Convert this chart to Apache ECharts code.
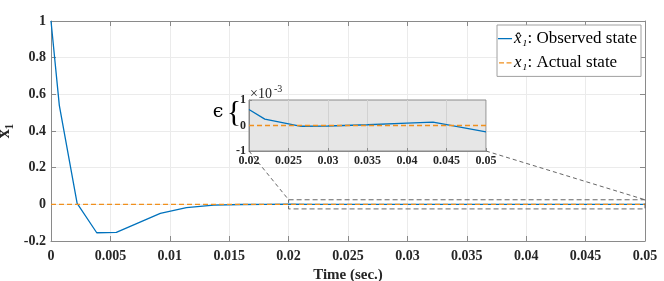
<!DOCTYPE html>
<html>
<head>
<meta charset="utf-8">
<script src="https://cdn.jsdelivr.net/npm/echarts@6/dist/echarts.min.js"></script>
<style>html,body{margin:0;padding:0;background:#fff}#c{width:664px;height:281px}</style>
</head>
<body>
<div id="c"></div>
<script>
// ---- data ----
const mainTime = [0, 0.0007, 0.0022, 0.00385, 0.0055, 0.0092, 0.0114, 0.0137, 0.016, 0.018];
const mainObserved = [1, 0.54, 0.005, -0.155, -0.153, -0.049, -0.018, -0.004, -0.001, 0.0003];
// zoomed window values (units of 1e-3)
const insetTime = [0.02, 0.022, 0.0266, 0.03, 0.035, 0.04, 0.0433, 0.05];
const insetObserved = [0.63, 0.25, -0.03, -0.02, 0.03, 0.09, 0.13, -0.25];
const actualTime = [0, 0.05];
const actualValue = [0, 0];
const zoomBox = { x0: 0.02, x1: 0.05, y0: -0.025, y1: 0.025 };
const insetScale = 1e-3;
const legendNames = ['Observed', 'Actual'];

const BLUE = '#0072BD', ORANGE = '#F0901E';
const AX = '#8a8a8a', TXT = '#262626';
const serif = 'Liberation Serif';

const fmt = v => String(parseFloat(v.toFixed(4)));

const observedPairs = mainTime.map((t, i) => [t, mainObserved[i]])
  .concat(insetTime.map((t, i) => [t, insetObserved[i] * insetScale]));
const insetPairs = insetTime.map((t, i) => [t, insetObserved[i]]);
const actualPairs = actualTime.map((t, i) => [t, actualValue[i]]);
const insetActualPairs = [[insetTime[0], 0], [insetTime[insetTime.length - 1], 0]];
const boxPairs = [[zoomBox.x0, zoomBox.y1], [zoomBox.x1, zoomBox.y1], [zoomBox.x1, zoomBox.y0], [zoomBox.x0, zoomBox.y0], [zoomBox.x0, zoomBox.y1]];

const chart = echarts.init(document.getElementById('c'), null, { renderer: 'canvas' });

const tickLbl = (size) => ({ fontFamily: serif, fontWeight: 'bold', fontSize: size, color: TXT });

// legend line icons (thin line centred in a 14x14 box)
const solidIcon = 'path://M0,0h0.01v0.01h-0.01z M0,6.4h14v1.3h-14z M13.99,13.99h0.01v0.01h-0.01z';
const dashIcon = 'path://M0,0h0.01v0.01h-0.01z M1,6.4h5v1.3h-5z M8.5,6.4h5v1.3h-5z M13.99,13.99h0.01v0.01h-0.01z';

const option = {
  animation: false,
  backgroundColor: '#fff',
  grid: [
    { left: 51, top: 21, width: 594, height: 220, show: false, containLabel: false, outerBoundsMode: 'none' },
    { left: 249, top: 100, width: 237, height: 51, show: true, backgroundColor: '#e6e6e6', borderColor: AX, borderWidth: 1, z: 3, containLabel: false, outerBoundsMode: 'none' }
  ],
  xAxis: [
    { type: 'value', gridIndex: 0, min: 0, max: 0.05, interval: 0.005, position: 'bottom',
      axisLine: { show: true, onZero: false, lineStyle: { color: AX } },
      axisTick: { show: true, inside: true, length: 5, lineStyle: { color: AX } },
      axisLabel: Object.assign({ margin: 8, formatter: fmt }, tickLbl(14)),
      splitLine: { show: true, lineStyle: { color: '#ebebeb' } },
      name: 'Time (sec.)', nameLocation: 'middle', nameGap: 22,
      nameTextStyle: { fontFamily: serif, fontWeight: 'bold', fontSize: 15, color: TXT } },
    { type: 'value', gridIndex: 0, min: 0, max: 0.05, interval: 0.005, position: 'top',
      axisLine: { show: true, onZero: false, lineStyle: { color: AX } },
      axisTick: { show: true, inside: true, length: 5, lineStyle: { color: AX } },
      axisLabel: { show: false }, splitLine: { show: false } },
    { type: 'value', gridIndex: 1, min: 0.02, max: 0.05, interval: 0.005, position: 'bottom', z: 4,
      axisLine: { show: true, onZero: false, lineStyle: { color: AX } },
      axisTick: { show: true, inside: true, length: 3, lineStyle: { color: AX } },
      axisLabel: Object.assign({ margin: 4, formatter: fmt }, tickLbl(12)),
      splitLine: { show: true, lineStyle: { color: '#d2d2d2' } } }
  ],
  yAxis: [
    { type: 'value', gridIndex: 0, min: -0.2, max: 1, interval: 0.2, position: 'left',
      axisLine: { show: true, onZero: false, lineStyle: { color: AX } },
      axisTick: { show: true, inside: true, length: 5, lineStyle: { color: AX } },
      axisLabel: Object.assign({ margin: 5, formatter: fmt }, tickLbl(14)),
      splitLine: { show: true, lineStyle: { color: '#ebebeb' } },
      name: 'x₁', nameLocation: 'middle', nameGap: 32, nameRotate: 90,
      nameTextStyle: { fontFamily: serif, fontWeight: 'bold', fontSize: 18, color: TXT } },
    { type: 'value', gridIndex: 0, min: -0.2, max: 1, interval: 0.2, position: 'right',
      axisLine: { show: true, onZero: false, lineStyle: { color: AX } },
      axisTick: { show: true, inside: true, length: 5, lineStyle: { color: AX } },
      axisLabel: { show: false }, splitLine: { show: false } },
    { type: 'value', gridIndex: 1, min: -1, max: 1, interval: 1, position: 'left', z: 4,
      axisLine: { show: true, onZero: false, lineStyle: { color: AX } },
      axisTick: { show: true, inside: true, length: 3, lineStyle: { color: AX } },
      axisLabel: Object.assign({ margin: 3, formatter: fmt }, tickLbl(12)),
      splitLine: { show: false } }
  ],
  legend: {
    right: 23, top: 25, orient: 'vertical',
    data: [{ name: legendNames[0], icon: solidIcon }, { name: legendNames[1], icon: dashIcon }],
    backgroundColor: '#fff', borderColor: '#a0a0a0', borderWidth: 1, borderRadius: 0,
    padding: [5, 4, 5, 1], itemGap: 7.4, itemWidth: 14, itemHeight: 14,
    formatter: function (name) {
      return name === legendNames[0] ? '{i|x̂₁}: Observed state' : '{i|x₁}: Actual state';
    },
    textStyle: { fontFamily: serif, fontSize: 17, color: '#000', padding: [0, 0, 0, -3],
      rich: { i: { fontFamily: serif, fontStyle: 'italic', fontSize: 17, color: '#000' } } }
  },
  series: [
    { name: legendNames[0], type: 'line', xAxisIndex: 0, yAxisIndex: 0, data: observedPairs,
      showSymbol: false, symbol: 'none', lineStyle: { color: BLUE, width: 1.3 }, itemStyle: { color: BLUE }, z: 2 },
    { name: legendNames[1], type: 'line', xAxisIndex: 0, yAxisIndex: 0, data: actualPairs,
      showSymbol: false, symbol: 'none', lineStyle: { color: ORANGE, width: 1.3, type: [5, 3] }, itemStyle: { color: ORANGE }, z: 3 },
    { type: 'line', xAxisIndex: 0, yAxisIndex: 0, data: boxPairs, silent: true,
      showSymbol: false, symbol: 'none', lineStyle: { color: '#555', width: 0.9, type: [5, 3] }, z: 4 },
    { type: 'line', xAxisIndex: 2, yAxisIndex: 2, data: insetPairs,
      showSymbol: false, symbol: 'none', lineStyle: { color: BLUE, width: 1.3 }, z: 6 },
    { type: 'line', xAxisIndex: 2, yAxisIndex: 2, data: insetActualPairs,
      showSymbol: false, symbol: 'none', lineStyle: { color: ORANGE, width: 1.3, type: [5, 3] }, z: 7 }
  ]
};
chart.setOption(option);

// connectors between zoom box and inset, via library coordinate conversion
const pMain = (x, y) => chart.convertToPixel({ xAxisIndex: 0, yAxisIndex: 0 }, [x, y]);
const pIns = (x, y) => chart.convertToPixel({ xAxisIndex: 2, yAxisIndex: 2 }, [x, y]);
const a1 = pIns(0.02, -1), b1 = pMain(zoomBox.x0, zoomBox.y1);
const a2 = pIns(0.05, -1), b2 = pMain(zoomBox.x1, zoomBox.y1);
const insMid = pIns(0.02, 0), insTopL = pIns(0.02, 1);
chart.setOption({
  graphic: [
    { type: 'line', z: 10, shape: { x1: a1[0], y1: a1[1], x2: b1[0], y2: b1[1] }, style: { stroke: '#555', lineWidth: 0.9, lineDash: [4, 3] } },
    { type: 'line', z: 10, shape: { x1: a2[0], y1: a2[1], x2: b2[0], y2: b2[1] }, style: { stroke: '#555', lineWidth: 0.9, lineDash: [4, 3] } },
    { type: 'text', z: 10, x: insMid[0] - 31, y: insMid[1] - 13, style: { text: 'ϵ', font: '19px "DejaVu Serif"', fill: '#000', align: 'center', verticalAlign: 'middle' } },
    { type: 'text', z: 10, x: insMid[0] - 15, y: insMid[1] - 12, style: { text: '{', font: '30px "Liberation Serif"', fill: '#000', align: 'center', verticalAlign: 'middle' } },
    { type: 'text', z: 10, x: insTopL[0] + 1, y: insTopL[1] + 1, style: { text: '×10', font: '14px "Liberation Serif"', fill: TXT, align: 'left', verticalAlign: 'bottom' } },
    { type: 'text', z: 10, x: insTopL[0] + 25, y: insTopL[1] - 6, style: { text: '-3', font: '10px "Liberation Serif"', fill: TXT, align: 'left', verticalAlign: 'bottom' } }
  ]
});
</script>
</body>
</html>
